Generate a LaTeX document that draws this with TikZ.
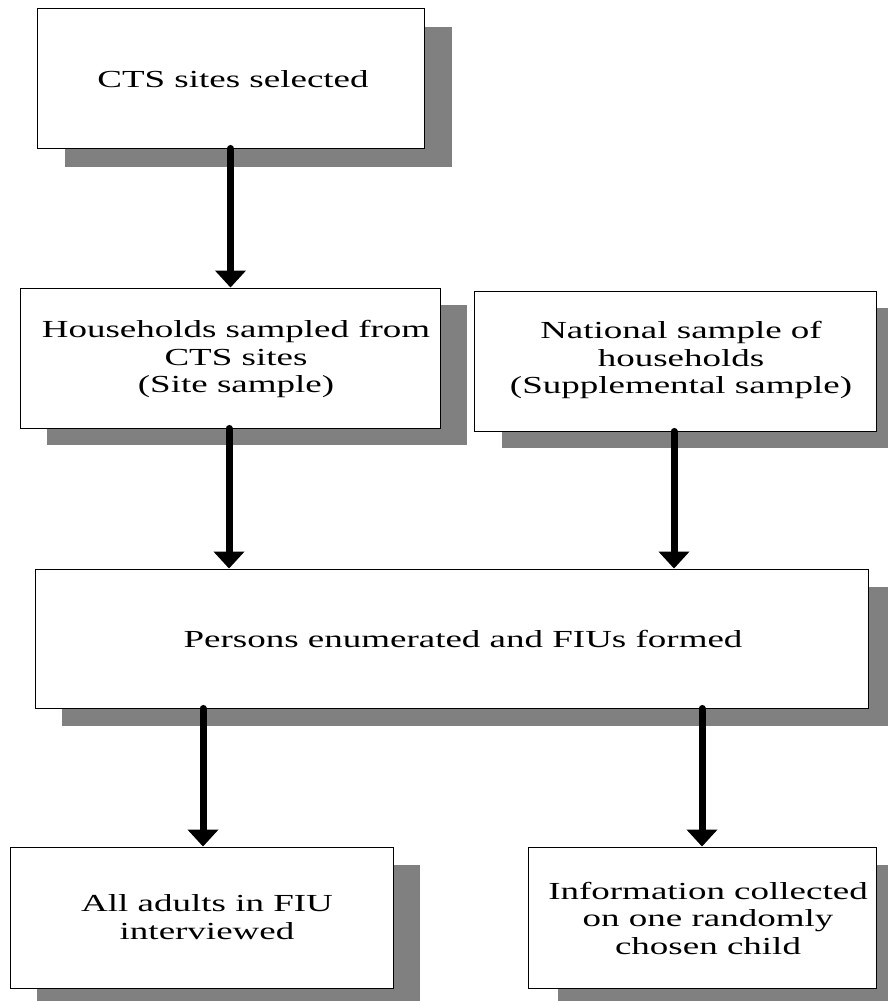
\documentclass[tikz,border=0pt]{standalone}
\usepackage{fontspec}
\setmainfont{Liberation Serif}[FakeStretch=1.51]
\usetikzlibrary{arrows.meta,backgrounds}

% grey block offset behind a box
\newcommand\boxshadow[3]{%
  \fill[shadowfill] ([shift={(#2,#3)}]#1.north west) rectangle ([shift={(#2,#3)}]#1.south east);}

\begin{document}
\begin{tikzpicture}[x=1pt,y=-1pt,
  box/.style={draw=black, line width=0.9pt, fill=white, inner sep=0pt},
  caption/.style={align=center, inner sep=0pt, font=\fontsize{24.5}{27.5}\selectfont},
  flow/.style={line width=7pt, line cap=round, -{Triangle[width=30pt,length=17pt]}},
  shadowfill/.style={fill=black!50}]
  \useasboundingbox (0,0) rectangle (888,1001);
  \clip (0,0) rectangle (888,1001);

  % boxes
  \node[box, minimum width=387pt, minimum height=140pt] (top) at (230.5,78) {};
  \node[box, minimum width=420pt, minimum height=140pt] (hh) at (230,358) {};
  \node[box, minimum width=402pt, minimum height=140pt] (nat) at (675,361) {};
  \node[box, minimum width=833pt, minimum height=139pt] (pers) at (451.5,638.5) {};
  \node[box, minimum width=383pt, minimum height=141pt] (adults) at (201.5,917.5) {};
  \node[box, minimum width=348pt, minimum height=141pt] (info) at (702,917.5) {};

  % shadows
  \begin{scope}[on background layer]
    \boxshadow{top}{28}{19}
    \boxshadow{hh}{27}{17}
    \boxshadow{nat}{28}{17}
    \boxshadow{pers}{27}{18}
    \boxshadow{adults}{27}{18}
    \boxshadow{info}{30}{18}
  \end{scope}

  % texts
  \node[caption] (ttop) at (233,79) {CTS sites selected};
  \node[caption] (thh) at (236,359) {Households sampled from\\CTS sites\\(Site sample)};
  \node[caption] (tnat) at (681,360) {National sample of\\households\\(Supplemental sample)};
  \node[caption] (tpers) at (463,639) {Persons enumerated and FIUs formed};
  \node[caption] (tadults) at (207,917) {All adults in FIU\\interviewed};
  \node[caption] (tinfo) at (708,918) {Information collected\\on one randomly\\chosen child};

  % connectors
  \draw[flow] (top.south) -- (top.south |- hh.north);
  \draw[flow] ([xshift=-1pt]hh.south) -- ([xshift=-1pt]hh.south |- pers.north);
  \draw[flow] ([xshift=-1pt]nat.south) -- ([xshift=-1pt]nat.south |- pers.north);
  \draw[flow] ([xshift=1.5pt]adults.north |- pers.south) -- ([xshift=1.5pt]adults.north);
  \draw[flow] (info.north |- pers.south) -- (info.north);
\end{tikzpicture}
\end{document}
